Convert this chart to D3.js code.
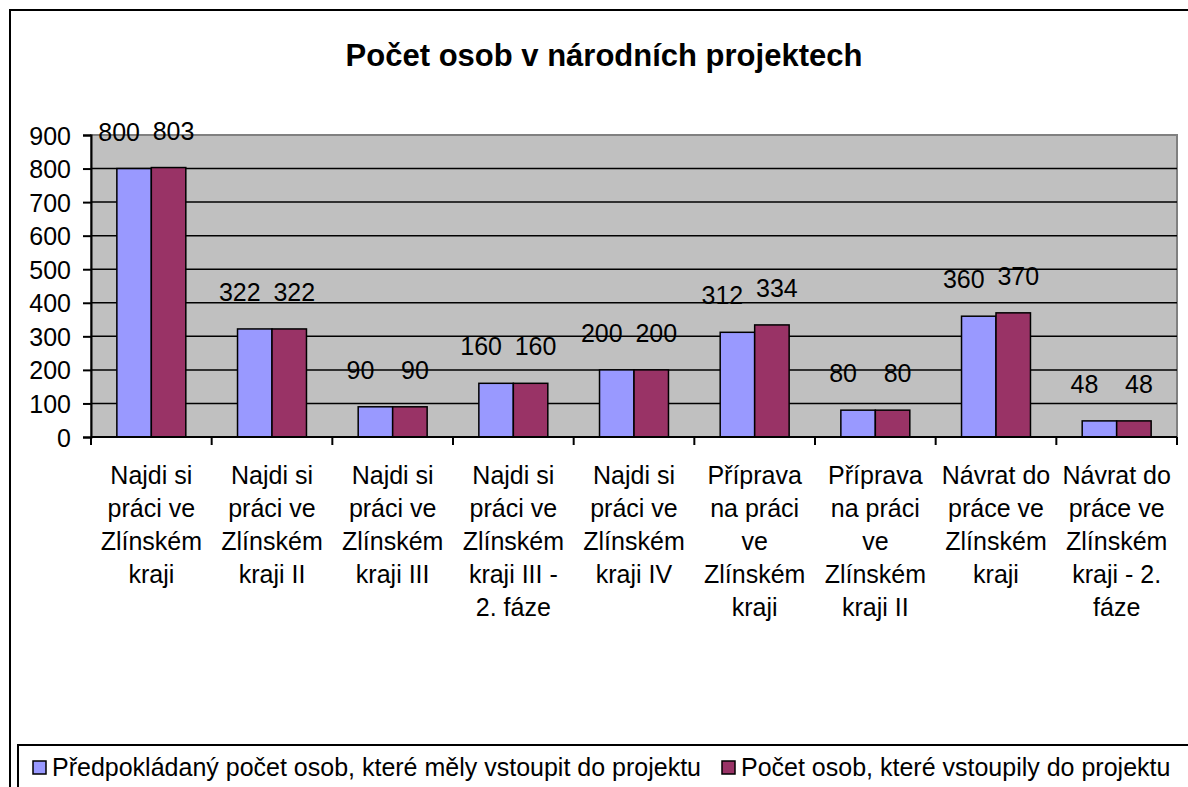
<!DOCTYPE html>
<html lang="cs">
  <head>
    <meta charset="UTF-8" />
    <title>Počet osob v národních projektech</title>
    <style>
      body { margin: 0; background: #fff; }
      svg { display: block; font-family: "Liberation Sans", Arial, sans-serif; }
    </style>
  </head>
  <body>
    <script src="https://d3js.org/d3.v7.min.js"></script>
    <script>
      const width = 1188;
      const height = 787;

      const title = "Počet osob v národních projektech";
      const categories = [
        "Najdi si\npráci ve\nZlínském\nkraji",
        "Najdi si\npráci ve\nZlínském\nkraji II",
        "Najdi si\npráci ve\nZlínském\nkraji III",
        "Najdi si\npráci ve\nZlínském\nkraji III -\n2. fáze",
        "Najdi si\npráci ve\nZlínském\nkraji IV",
        "Příprava\nna práci\nve\nZlínském\nkraji",
        "Příprava\nna práci\nve\nZlínském\nkraji II",
        "Návrat do\npráce ve\nZlínském\nkraji",
        "Návrat do\npráce ve\nZlínském\nkraji - 2.\nfáze",
      ];
      const seriesNames = [
        "Předpokládaný počet osob, které měly vstoupit do projektu",
        "Počet osob, které vstoupily do projektu",
      ];
      const planned = [800, 322, 90, 160, 200, 312, 80, 360, 48];
      const entered = [803, 322, 90, 160, 200, 334, 80, 370, 48];
      const yTicks = [0, 100, 200, 300, 400, 500, 600, 700, 800, 900];
      const colors = ["#9999ff", "#993366"];

      const plot = { left: 91, right: 1177, top: 135, bottom: 437 };
      const fs = 25;

      const svg = d3
        .select("body")
        .append("svg")
        .attr("width", width)
        .attr("height", height);

      // chart frame (cut off at right and bottom like the original)
      svg
        .append("rect")
        .attr("x", 10)
        .attr("y", 10)
        .attr("width", width + 20)
        .attr("height", height + 20)
        .attr("fill", "#fff")
        .attr("stroke", "#000")
        .attr("stroke-width", 2);

      svg
        .append("text")
        .attr("x", 604)
        .attr("y", 66)
        .attr("text-anchor", "middle")
        .attr("font-size", 31)
        .attr("font-weight", "bold")
        .text(title);

      const x = d3
        .scaleBand()
        .domain(d3.range(categories.length))
        .range([plot.left, plot.right]);

      const xs = d3
        .scaleBand()
        .domain([0, 1])
        .range([0, x.bandwidth()])
        .paddingInner(0)
        .paddingOuter(0.75);

      const y = d3.scaleLinear().domain([0, 900]).range([plot.bottom, plot.top]);

      // plot background
      svg
        .append("rect")
        .attr("x", plot.left)
        .attr("y", plot.top)
        .attr("width", plot.right - plot.left)
        .attr("height", plot.bottom - plot.top)
        .attr("fill", "#c0c0c0")
        .attr("stroke", "#808080")
        .attr("stroke-width", 2);

      // gridlines
      svg
        .append("g")
        .selectAll("line")
        .data(yTicks.filter((t) => t > 0 && t < 900))
        .join("line")
        .attr("x1", plot.left)
        .attr("x2", plot.right)
        .attr("y1", (d) => y(d))
        .attr("y2", (d) => y(d))
        .attr("stroke", "#000")
        .attr("stroke-width", 1.5);

      // bars
      const series = [planned, entered];
      const bars = [];
      series.forEach((vals, s) =>
        vals.forEach((v, i) => bars.push({ s, i, v }))
      );

      svg
        .append("g")
        .selectAll("rect")
        .data(bars)
        .join("rect")
        .attr("x", (d) => x(d.i) + xs(d.s))
        .attr("y", (d) => y(Math.min(d.v, 900)))
        .attr("width", xs.bandwidth())
        .attr("height", (d) => y(0) - y(Math.min(d.v, 900)))
        .attr("fill", (d) => colors[d.s])
        .attr("stroke", "#000")
        .attr("stroke-width", 1.5);

      // data labels
      const labelShift = [-15, 5];
      svg
        .append("g")
        .selectAll("text")
        .data(bars)
        .join("text")
        .attr("x", (d) => x(d.i) + xs(d.s) + xs.bandwidth() / 2 + labelShift[d.s])
        .attr("y", (d) => y(d.v) - 28)
        .attr("text-anchor", "middle")
        .attr("font-size", fs)
        .text((d) => d.v);

      // y axis
      const yAxis = svg
        .append("g")
        .attr("transform", `translate(${plot.left},0)`)
        .call(
          d3.axisLeft(y).tickValues(yTicks).tickSize(8).tickPadding(12)
        );
      yAxis.select(".domain").attr("stroke", "#000").attr("stroke-width", 2);
      yAxis.selectAll(".tick line").attr("stroke", "#000").attr("stroke-width", 2);
      yAxis
        .selectAll(".tick text")
        .attr("font-size", fs)
        .attr("font-family", "Liberation Sans, Arial, sans-serif")
        .attr("fill", "#000")
        .attr("dy", "0.36em");

      // x axis line + ticks at category boundaries
      svg
        .append("line")
        .attr("x1", plot.left)
        .attr("x2", plot.right)
        .attr("y1", y(0))
        .attr("y2", y(0))
        .attr("stroke", "#000")
        .attr("stroke-width", 2);

      svg
        .append("g")
        .selectAll("line")
        .data(d3.range(categories.length + 1))
        .join("line")
        .attr("x1", (i) => plot.left + i * x.step())
        .attr("x2", (i) => plot.left + i * x.step())
        .attr("y1", y(0))
        .attr("y2", y(0) + 8)
        .attr("stroke", "#000")
        .attr("stroke-width", 2);

      // category labels
      const catG = svg
        .append("g")
        .selectAll("text")
        .data(categories)
        .join("text")
        .attr("x", (d, i) => x(i) + x.bandwidth() / 2)
        .attr("y", 484)
        .attr("text-anchor", "middle")
        .attr("font-size", fs);
      catG
        .selectAll("tspan")
        .data((d) => d.split("\n"))
        .join("tspan")
        .attr("x", function () {
          return this.parentNode.getAttribute("x");
        })
        .attr("dy", (d, j) => (j === 0 ? 0 : 33))
        .text((d) => d);

      // legend
      svg
        .append("rect")
        .attr("x", 18)
        .attr("y", 745)
        .attr("width", width)
        .attr("height", 80)
        .attr("fill", "#fff")
        .attr("stroke", "#000")
        .attr("stroke-width", 2);

      const legendX = [33, 722];
      const leg = svg
        .append("g")
        .selectAll("g")
        .data(seriesNames)
        .join("g")
        .attr("transform", (d, i) => `translate(${legendX[i]},0)`);
      leg
        .append("rect")
        .attr("x", 0)
        .attr("y", 761)
        .attr("width", 13)
        .attr("height", 13)
        .attr("fill", (d, i) => colors[i])
        .attr("stroke", "#000")
        .attr("stroke-width", 1.5);
      leg
        .append("text")
        .attr("x", 19)
        .attr("y", 776)
        .attr("font-size", fs)
        .text((d) => d);
    </script>
  </body>
</html>
